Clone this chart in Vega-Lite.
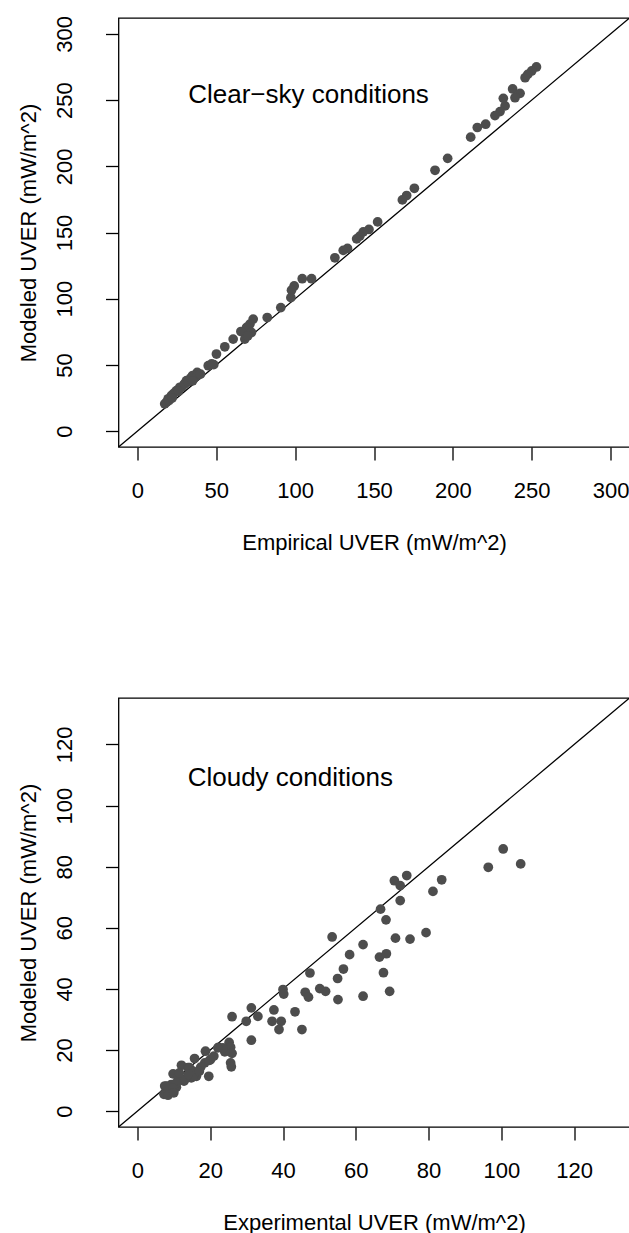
{
  "$schema": "https://vega.github.io/schema/vega-lite/v6.json",
  "padding": {"left": 16.5, "top": 14, "right": 0, "bottom": 0},
  "autosize": {"type": "pad"},
  "background": "white",
  "spacing": 251,
  "bounds": "flush",
  "config": {
    "view": {"stroke": "black", "strokeWidth": 1.3, "fill": "white"},
    "font": "Liberation Sans",
    "axis": {
      "grid": false, "domain": false, "tickColor": "black", "tickSize": 13, "tickWidth": 1.3,
      "labelFont": "Liberation Sans", "labelFontSize": 22, "labelColor": "black",
      "titleFont": "Liberation Sans", "titleFontSize": 22, "titleFontWeight": "normal", "titleColor": "black",
      "labelFlush": false, "labelOverlap": false
    }
  },
  "datasets": {
    "clear": [
      {"x":253,"y":275},{"x":250,"y":272},{"x":247.5,"y":269.4},{"x":245.8,"y":266.9},{"x":237.9,"y":258.4},{"x":242.6,"y":255.1},{"x":232,"y":251.3},{"x":239.4,"y":251.8},{"x":233.1,"y":245.6},{"x":229.9,"y":241.3},{"x":226.7,"y":238.3},{"x":220.8,"y":231.8},{"x":215.5,"y":229.3},{"x":211.3,"y":222},{"x":196.7,"y":206},{"x":188.7,"y":197},{"x":175.6,"y":183.4},{"x":170.7,"y":177.9},{"x":168,"y":174.6},{"x":152.3,"y":158},{"x":146.8,"y":152.3},{"x":143.2,"y":150.5},{"x":141,"y":147.3},{"x":139,"y":145.2},{"x":133.2,"y":138},{"x":130.5,"y":136.5},{"x":125.2,"y":130.9},{"x":110.4,"y":115.1},{"x":104.5,"y":115.1},{"x":99.4,"y":109.6},{"x":97.7,"y":106.4},{"x":97.3,"y":100.8},{"x":90.9,"y":93.3},{"x":82.3,"y":85.8},{"x":73.4,"y":84.6},{"x":71.3,"y":80.8},{"x":69.2,"y":78.3},{"x":65.6,"y":75.2},{"x":72.3,"y":74.5},{"x":68.1,"y":69.5},{"x":70,"y":72},{"x":60.7,"y":69.5},{"x":55.4,"y":63.7},{"x":50.1,"y":58.2},{"x":48.4,"y":50.2},{"x":44.9,"y":49.4},{"x":37.9,"y":44.4},{"x":36.4,"y":40.6},{"x":33.8,"y":40.2},{"x":31.1,"y":38.1},{"x":29.6,"y":35.1},{"x":26.9,"y":33.1},{"x":24.7,"y":30.6},{"x":21.6,"y":26.9},{"x":19.5,"y":24.4},{"x":17.3,"y":20.6},{"x":18.4,"y":21.8},{"x":23,"y":28.5},{"x":28,"y":33},{"x":30,"y":36},{"x":35,"y":42},{"x":38,"y":42},{"x":32,"y":37},{"x":26,"y":30},{"x":20,"y":23},{"x":22,"y":25},{"x":35,"y":38},{"x":40,"y":43},{"x":47,"y":50.7}
    ],
    "cloudy": [
      {"x":100.5,"y":85.8},{"x":105.3,"y":80.9},{"x":96.4,"y":79.8},{"x":83.6,"y":75.7},{"x":81.2,"y":71.9},{"x":74,"y":77.1},{"x":70.6,"y":75.4},{"x":72.2,"y":73.8},{"x":72.2,"y":68.9},{"x":66.8,"y":66.1},{"x":68.3,"y":62.6},{"x":79.3,"y":58.4},{"x":70.9,"y":56.6},{"x":74.9,"y":56.3},{"x":53.5,"y":57},{"x":62,"y":54.5},{"x":58.3,"y":51.2},{"x":66.5,"y":50.4},{"x":68.4,"y":51.5},{"x":56.6,"y":46.5},{"x":55,"y":43.4},{"x":67.6,"y":45.3},{"x":47.4,"y":45.2},{"x":50.1,"y":40.1},{"x":51.7,"y":39.2},{"x":69.3,"y":39.2},{"x":62,"y":37.6},{"x":55.1,"y":36.5},{"x":46.1,"y":38.9},{"x":47,"y":37.3},{"x":40,"y":39.8},{"x":40.2,"y":38.3},{"x":43.3,"y":32.5},{"x":37.5,"y":33.1},{"x":39.5,"y":29.4},{"x":37,"y":29.4},{"x":38.9,"y":26.7},{"x":45.2,"y":26.7},{"x":31.3,"y":33.8},{"x":33.1,"y":31},{"x":29.9,"y":29.4},{"x":26,"y":30.9},{"x":31.3,"y":23.2},{"x":25.2,"y":22.5},{"x":25.6,"y":20.9},{"x":26,"y":18.9},{"x":25.6,"y":15.8},{"x":25.8,"y":14.5},{"x":22.3,"y":20.9},{"x":24,"y":19.4},{"x":18.7,"y":19.6},{"x":20.1,"y":16.9},{"x":18.5,"y":15.8},{"x":15.7,"y":17.2},{"x":19.6,"y":11.4},{"x":12.1,"y":15},{"x":13.9,"y":14.2},{"x":17.4,"y":14.4},{"x":15.3,"y":13.1},{"x":16.2,"y":11.4},{"x":14.8,"y":10.9},{"x":12.8,"y":9.8},{"x":9.8,"y":12.2},{"x":11.2,"y":10.9},{"x":10.7,"y":7.8},{"x":7.5,"y":8.2},{"x":8.9,"y":7.1},{"x":7.3,"y":5.5},{"x":8.4,"y":5.2},{"x":9.3,"y":8.7},{"x":23.5,"y":20.7},{"x":22.1,"y":20.7},{"x":19.8,"y":16.6},{"x":14.3,"y":14.2},{"x":15.3,"y":11.4},{"x":13,"y":10.4},{"x":10.7,"y":9.2},{"x":8,"y":8.2},{"x":9.8,"y":7.6},{"x":11.5,"y":12.5},{"x":17,"y":13},{"x":21,"y":18},{"x":14,"y":12},{"x":10,"y":6}
    ],
    "diag1": [{"x":-12,"y":-12,"x2":312,"y2":312}],
    "diag2": [{"x":-5.2,"y":-5.2,"x2":135.2,"y2":135.2}],
    "label1": [{"x":108.5,"y":254,"label":"Clear−sky conditions"}],
    "label2": [{"x":42,"y":109,"label":"Cloudy conditions"}]
  },
  "vconcat": [
    {
      "width": 511, "height": 429,
      "encoding": {
        "x": {"field": "x", "type": "quantitative", "scale": {"domain": [-12, 312], "nice": false, "zero": false},
              "axis": {"title": "Empirical UVER (mW/m^2)", "values": [0,50,100,150,200,250,300], "labelPadding": 20, "labelBaseline": "top", "labelAlign": "center", "titleY": 102.3, "titleBaseline": "alphabetic", "titleAlign": "center"}},
        "y": {"field": "y", "type": "quantitative", "scale": {"domain": [-12, 312], "nice": false, "zero": false},
              "axis": {"title": "Modeled UVER (mW/m^2)", "values": [0,50,100,150,200,250,300], "labelAngle": -90, "labelAlign": "center", "labelBaseline": "alphabetic", "labelPadding": 34, "titleAngle": -90, "titleX": -83, "titleBaseline": "alphabetic", "titleAlign": "center"}}
      },
      "layer": [
        {"data": {"name": "diag1"}, "mark": {"type": "rule", "color": "black", "strokeWidth": 1.3, "clip": true}, "encoding": {"x2": {"field": "x2"}, "y2": {"field": "y2"}}},
        {"data": {"name": "clear"}, "mark": {"type": "circle", "color": "#4d4d4d", "opacity": 1, "size": 95}},
        {"data": {"name": "label1"}, "mark": {"type": "text", "fontSize": 26, "font": "Liberation Sans", "color": "black", "align": "center", "baseline": "middle"}, "encoding": {"text": {"field": "label"}}}
      ]
    },
    {
      "width": 511, "height": 429,
      "encoding": {
        "x": {"field": "x", "type": "quantitative", "scale": {"domain": [-5.2, 135.2], "nice": false, "zero": false},
              "axis": {"title": "Experimental UVER (mW/m^2)", "values": [0,20,40,60,80,100,120], "labelPadding": 20, "labelBaseline": "top", "labelAlign": "center", "titleY": 102.3, "titleBaseline": "alphabetic", "titleAlign": "center"}},
        "y": {"field": "y", "type": "quantitative", "scale": {"domain": [-5.2, 135.2], "nice": false, "zero": false},
              "axis": {"title": "Modeled UVER (mW/m^2)", "values": [0,20,40,60,80,100,120], "labelAngle": -90, "labelAlign": "center", "labelBaseline": "alphabetic", "labelPadding": 34, "titleAngle": -90, "titleX": -83, "titleBaseline": "alphabetic", "titleAlign": "center"}}
      },
      "layer": [
        {"data": {"name": "diag2"}, "mark": {"type": "rule", "color": "black", "strokeWidth": 1.3, "clip": true}, "encoding": {"x2": {"field": "x2"}, "y2": {"field": "y2"}}},
        {"data": {"name": "cloudy"}, "mark": {"type": "circle", "color": "#4d4d4d", "opacity": 1, "size": 95}},
        {"data": {"name": "label2"}, "mark": {"type": "text", "fontSize": 26, "font": "Liberation Sans", "color": "black", "align": "center", "baseline": "middle"}, "encoding": {"text": {"field": "label"}}}
      ]
    }
  ]
}
